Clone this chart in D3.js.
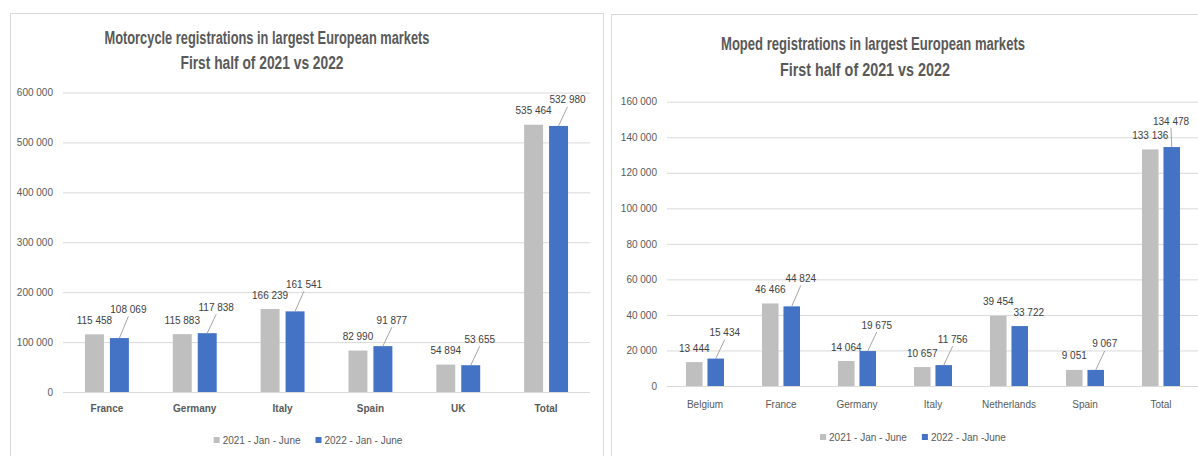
<!DOCTYPE html>
<html>
<head>
<meta charset="utf-8">
<script src="https://cdn.jsdelivr.net/npm/d3@7"></script>
<style>
  body { margin: 0; background: #fff; }
  svg text { font-family: "Liberation Sans", Arial, sans-serif; }
</style>
</head>
<body>
<svg id="chart" width="1198" height="456"></svg>
<script>
// motorcycle chart data
const motoCategories = ["France", "Germany", "Italy", "Spain", "UK", "Total"];
const moto2021 = [115458, 115883, 166239, 82990, 54894, 535464];
const moto2022 = [108069, 117838, 161541, 91877, 53655, 532980];
const motoSeries = ["2021 - Jan - June", "2022 - Jan - June"];
const motoTicks = [0, 100000, 200000, 300000, 400000, 500000, 600000];
const motoTitle = ["Motorcycle registrations in largest European markets", "First half of 2021 vs 2022"];

// moped chart data
const mopedCategories = ["Belgium", "France", "Germany", "Italy", "Netherlands", "Spain", "Total"];
const moped2021 = [13444, 46466, 14064, 10657, 39454, 9051, 133136];
const moped2022 = [15434, 44824, 19675, 11756, 33722, 9067, 134478];
const mopedSeries = ["2021 - Jan - June", "2022 - Jan -June"];
const mopedTicks = [0, 20000, 40000, 60000, 80000, 100000, 120000, 140000, 160000];
const mopedTitle = ["Moped registrations in largest European markets", "First half of 2021 vs 2022"];

const seriesColors = ["#bfbfbf", "#4472c4"];
const fmt = d3.formatLocale({decimal: ",", thousands: " ", grouping: [3], currency: ["", ""]}).format(",d");

const svg = d3.select("#chart");
const svgWidth = +svg.attr("width");

function drawPanel(cfg) {
  const g = svg.append("g");

  // frame of the panel
  g.append("rect")
    .attr("x", cfg.frame[0] + 0.5).attr("y", cfg.frame[1] + 0.5)
    .attr("width", cfg.frame[2]).attr("height", cfg.frame[3])
    .attr("fill", "#fff").attr("stroke", "#d9d9d9");

  // title
  cfg.title.forEach((t, i) => {
    g.append("text")
      .attr("x", cfg.titlePos[i][0]).attr("y", cfg.titlePos[i][1])
      .attr("text-anchor", "middle")
      .attr("textLength", cfg.titlePos[i][2])
      .attr("lengthAdjust", "spacingAndGlyphs")
      .style("font-size", "17.5px").style("font-weight", "bold")
      .style("fill", "#595959")
      .text(t);
  });

  const p = cfg.plot;
  const y = d3.scaleLinear()
    .domain([0, d3.max(cfg.ticks)])
    .range([p.bottom, p.top]);

  const x0 = d3.scaleBand()
    .domain(cfg.categories)
    .range([p.left, p.right]);
  const x1 = d3.scaleBand()
    .domain([0, 1])
    .range([x0.bandwidth() * 0.25, x0.bandwidth() * 0.75])
    .paddingInner(cfg.barGap);

  // gridlines + y labels
  const yAxis = g.append("g")
    .attr("transform", `translate(${p.left},0)`)
    .call(d3.axisLeft(y).tickValues(cfg.ticks).tickFormat(fmt)
      .tickSize(-(p.right - p.left)).tickPadding(10));
  yAxis.select(".domain").remove();
  yAxis.selectAll(".tick line").attr("stroke", "#d9d9d9");
  yAxis.selectAll(".tick text")
    .style("font-size", "10px").style("fill", "#595959");

  // bars
  const rows = [];
  cfg.categories.forEach((c, i) => {
    cfg.values.forEach((vals, s) => rows.push({cat: c, s: s, v: vals[i]}));
  });
  g.append("g").selectAll("rect")
    .data(rows)
    .join("rect")
      .attr("x", d => x0(d.cat) + x1(d.s))
      .attr("y", d => y(d.v))
      .attr("width", x1.bandwidth())
      .attr("height", d => y(0) - y(d.v))
      .attr("fill", d => seriesColors[d.s]);

  // value labels
  const labels = g.append("g");
  cfg.categories.forEach((c, i) => {
    const gx = x0(c) + x1(0) + x1.bandwidth() / 2;
    const gTop = y(cfg.values[0][i]);
    const gy = gTop - 14;
    labels.append("text")
      .attr("x", gx).attr("y", gy + 3.5)
      .attr("text-anchor", "middle")
      .style("font-size", "10px").style("fill", "#404040")
      .text(fmt(cfg.values[0][i]));

    const bx = x0(c) + x1(1) + x1.bandwidth() / 2;
    const bTop = y(cfg.values[1][i]);
    const lx = Math.min(bx + 9, svgWidth - 27);
    let ly = bTop - 26;
    // keep clear of the grey label
    if (Math.abs(ly - gy) < 11 && Math.abs(lx - gx) < 36) {
      ly = (bTop - (gy + 11) > 8) ? gy + 11 : gy - 11;
    }
    if (bTop - ly > 18) {
      labels.append("line")
        .attr("x1", bx).attr("y1", bTop)
        .attr("x2", lx).attr("y2", ly + 7)
        .attr("stroke", "#a6a6a6");
    }
    labels.append("text")
      .attr("x", lx).attr("y", ly + 3.5)
      .attr("text-anchor", "middle")
      .style("font-size", "10px").style("fill", "#404040")
      .text(fmt(cfg.values[1][i]));
  });

  // category labels
  const xAxis = g.append("g")
    .attr("transform", `translate(0,${p.bottom})`)
    .call(d3.axisBottom(x0).tickSize(0).tickPadding(cfg.catPad));
  xAxis.select(".domain").remove();
  xAxis.selectAll(".tick text")
    .style("font-size", "10px").style("fill", "#595959")
    .style("font-weight", cfg.catBold ? "bold" : "normal");

  // legend
  const leg = g.append("g");
  let cx = 0;
  cfg.series.forEach((name, s) => {
    leg.append("rect")
      .attr("x", cx).attr("y", -3).attr("width", 6).attr("height", 6)
      .attr("fill", seriesColors[s]);
    const t = leg.append("text")
      .attr("x", cx + 9).attr("y", 3.5)
      .style("font-size", "10px").style("fill", "#595959")
      .text(name);
    cx += 9 + t.node().getComputedTextLength() + 15;
  });
  const legW = cx - 15;
  leg.attr("transform", `translate(${cfg.legend[0] - legW / 2},${cfg.legend[1]})`);
}

drawPanel({
  frame: [10, 13, 593, 460],
  title: motoTitle,
  titlePos: [[267, 44, 325], [262, 69, 163]],
  plot: {left: 63, right: 590, top: 92.5, bottom: 392},
  categories: motoCategories,
  values: [moto2021, moto2022],
  series: motoSeries,
  ticks: motoTicks,
  barGap: 0.24,
  catBold: true,
  catPad: 13,
  legend: [308, 440]
});

drawPanel({
  frame: [611, 14, 600, 460],
  title: mopedTitle,
  titlePos: [[873, 50, 304], [865, 76, 170]],
  plot: {left: 667, right: 1199, top: 101.7, bottom: 386},
  categories: mopedCategories,
  values: [moped2021, moped2022],
  series: mopedSeries,
  ticks: mopedTicks,
  barGap: 0.23,
  catBold: false,
  catPad: 15,
  legend: [913, 437]
});
</script>
</body>
</html>
